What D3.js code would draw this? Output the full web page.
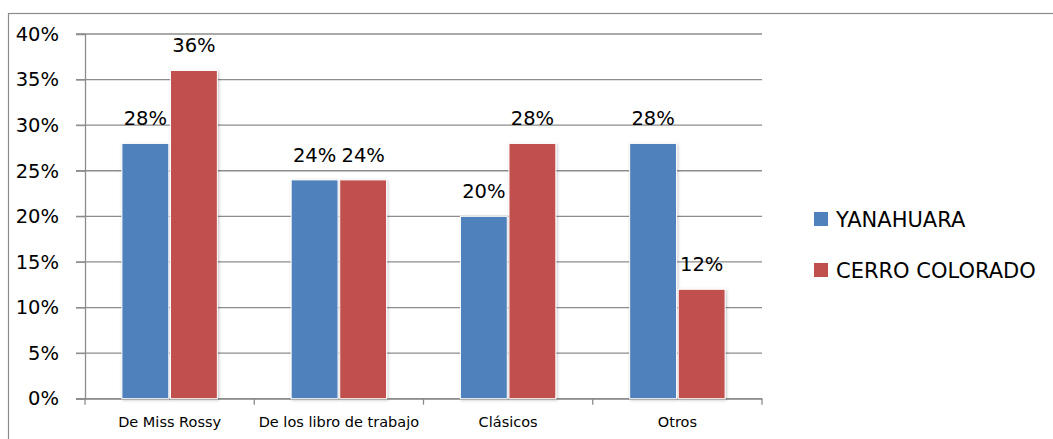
<!DOCTYPE html>
<html>
<head>
<meta charset="utf-8">
<script src="https://cdn.jsdelivr.net/npm/d3@7"></script>
<style>
  body { margin: 0; background: #fff; }
  svg text { font-family: "DejaVu Sans", sans-serif; fill: #000; }
</style>
</head>
<body>
<div id="chart"></div>
<script>
const categories = ['De Miss Rossy', 'De los libro de trabajo', 'Clásicos', 'Otros'];
const seriesNames = ['YANAHUARA', 'CERRO COLORADO'];
const yanahuara = [28, 24, 20, 28];
const cerroColorado = [36, 24, 28, 12];
const yTicks = [0, 5, 10, 15, 20, 25, 30, 35, 40];
const colors = ['#4F81BD', '#C0504D'];

const width = 1053;
const height = 439;
const margin = { top: 34, left: 85, right: 291, bottom: 40 };
const plotW = width - margin.left - margin.right;
const bottomY = 398.7;

const svg = d3.select('#chart')
  .append('svg')
  .attr('width', width)
  .attr('height', height);

// outer chart frame
svg.append('rect')
  .attr('x', 8.5).attr('y', 13.5)
  .attr('width', width + 10).attr('height', height + 10)
  .attr('fill', 'none')
  .attr('stroke', '#8c8c8c')
  .attr('stroke-width', 1.2);

const x = d3.scaleBand()
  .domain(categories)
  .range([margin.left, margin.left + plotW]);

const x1 = d3.scaleBand()
  .domain(seriesNames)
  .range([0, x.bandwidth()])
  .paddingOuter(0.76)
  .paddingInner(0.035);

const y = d3.scaleLinear()
  .domain([0, 40])
  .range([bottomY, margin.top]);

// gridlines
svg.append('g')
  .selectAll('line')
  .data(yTicks)
  .enter().append('line')
  .attr('x1', margin.left - 9)
  .attr('x2', margin.left + plotW)
  .attr('y1', d => y(d))
  .attr('y2', d => y(d))
  .attr('stroke', '#8c8c8c')
  .attr('stroke-width', 1.3);

// y axis
const yAxis = svg.append('g')
  .attr('transform', `translate(${margin.left},0)`)
  .call(d3.axisLeft(y).tickValues(yTicks).tickSize(9).tickFormat(d => d + '%'));
yAxis.select('.domain').attr('stroke', '#8c8c8c').attr('stroke-width', 1.3);
yAxis.selectAll('.tick line').attr('stroke', '#8c8c8c');
yAxis.selectAll('.tick text')
  .attr('x', -26)
  .style('font-size', '19.5px');

// x axis
const xAxis = svg.append('g')
  .attr('transform', `translate(0,${bottomY})`)
  .call(d3.axisBottom(x).tickSize(0));
xAxis.select('.domain').attr('stroke', '#8c8c8c').attr('stroke-width', 1.3);
xAxis.selectAll('.tick text')
  .attr('y', 18)
  .style('font-size', '14.5px');

// tick marks at category boundaries
const bounds = categories.map(c => x(c)).concat([margin.left + plotW]);
svg.append('g')
  .selectAll('line')
  .data(bounds)
  .enter().append('line')
  .attr('x1', d => d).attr('x2', d => d)
  .attr('y1', bottomY).attr('y2', bottomY + 6)
  .attr('stroke', '#8c8c8c')
  .attr('stroke-width', 1.3);

const data = categories.map((c, i) => ({
  cat: c,
  values: [
    { name: seriesNames[0], value: yanahuara[i], color: colors[0] },
    { name: seriesNames[1], value: cerroColorado[i], color: colors[1] },
  ],
}));

const defs = svg.append('defs');
defs.append('filter')
  .attr('id', 'shadow')
  .attr('x', '-20%').attr('y', '-5%').attr('width', '140%').attr('height', '115%')
  .append('feDropShadow')
  .attr('dx', 1).attr('dy', 1).attr('stdDeviation', 1.5)
  .attr('flood-color', '#000').attr('flood-opacity', 0.25);

const groups = svg.append('g')
  .selectAll('g')
  .data(data)
  .enter().append('g')
  .attr('transform', d => `translate(${x(d.cat)},0)`);

groups.selectAll('rect')
  .data(d => d.values)
  .enter().append('rect')
  .attr('x', d => x1(d.name))
  .attr('y', d => y(d.value))
  .attr('width', x1.bandwidth())
  .attr('height', d => bottomY - y(d.value))
  .attr('fill', d => d.color)
  .attr('stroke', '#fff')
  .attr('stroke-width', 1)
  .attr('filter', 'url(#shadow)');

groups.selectAll('text.val')
  .data(d => d.values)
  .enter().append('text')
  .attr('class', 'val')
  .attr('x', d => x1(d.name) + x1.bandwidth() / 2)
  .attr('y', d => y(d.value) - 18)
  .attr('text-anchor', 'middle')
  .style('font-size', '19.5px')
  .text(d => d.value + '%');

// legend
const legend = svg.append('g')
  .selectAll('g')
  .data(seriesNames)
  .enter().append('g')
  .attr('transform', (d, i) => `translate(814,${219 + i * 51})`);

legend.append('rect')
  .attr('x', 0).attr('y', -7)
  .attr('width', 14).attr('height', 14)
  .attr('fill', (d, i) => colors[i]);

legend.append('text')
  .attr('x', 22)
  .attr('y', 7.5)
  .style('font-size', '21px')
  .text(d => d);
</script>
</body>
</html>
